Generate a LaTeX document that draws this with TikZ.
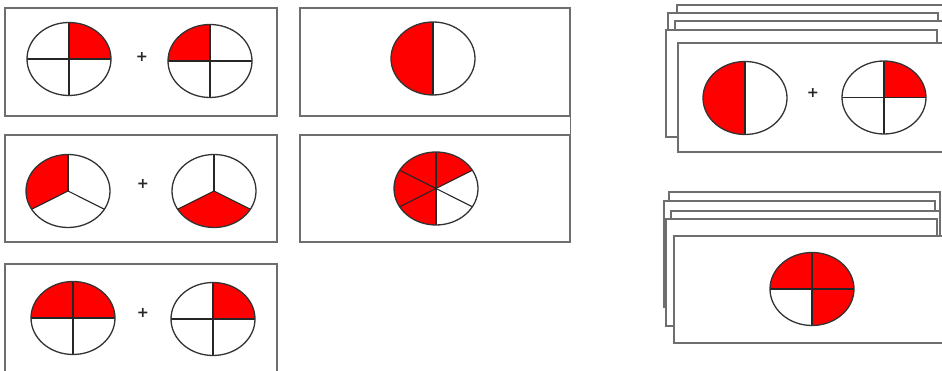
\documentclass[tikz,border=0pt]{standalone}
\usepackage{tikz}
\usepackage{fontspec}
\newfontfamily\plusfont{DejaVu Sans}
\definecolor{piered}{HTML}{FF0000}
\definecolor{boxgray}{HTML}{6E6E6E}
\tikzset{
  cardbox/.style={draw=boxgray,line width=1.1pt,fill=white,inner sep=0pt},
  stackcard/.style={draw=boxgray,line width=1.1pt,fill=white},
  pieline/.style={draw=black!80,line width=1.3pt},
  spoke/.style={draw=black!85,line width=1.1pt},
  plussign/.style={font=\plusfont\bfseries\Large,inner sep=0pt,text=black!85}
}
% center, red slices (start/end), spoke angles
\newcommand{\fracpie}[3]{%
  \begin{scope}[shift={#1}]
    \foreach \a/\b in {#2}
      \fill[piered] (0,0) -- (\a:42 and 36.5)
        arc[start angle=\a,end angle=\b,x radius=42,y radius=36.5] -- cycle;
    \foreach \s in {#3}
      \draw[spoke] (0,0) -- (\s:42 and 36.5);
    \draw[pieline] (0,0) ellipse[x radius=42,y radius=36.5];
  \end{scope}}

\begin{document}
\begin{tikzpicture}[x=1pt,y=1pt]
  \path[use as bounding box,clip] (0,0) rectangle (942,371);

  % left column: sums
  \node[cardbox,minimum width=272,minimum height=108] (sumone) at (141,309) {};
  \node[cardbox,minimum width=272,minimum height=107] (sumtwo) at (141,182.5) {};
  \node[cardbox,minimum width=272,minimum height=110] (sumthree) at (141,52) {};

  \fracpie{(69,312)}{0/90}{0,90,180,270}
  \fracpie{(210,310)}{90/180}{0,90,180,270}
  \node[plussign] (plusone) at (142,314) {+};

  \fracpie{(68,180)}{90/210}{90,210,330}
  \fracpie{(214,180)}{210/330}{90,210,330}
  \node[plussign] (plustwo) at (143,187) {+};

  \fracpie{(73,53)}{0/180}{0,90,180,270}
  \fracpie{(213,52)}{0/90}{0,90,180,270}
  \node[plussign] (plusthree) at (143,58) {+};

  % middle column: results
  \node[cardbox,minimum width=270,minimum height=108] (halfres) at (435,309) {};
  \node[cardbox,minimum width=270,minimum height=107] (sixthres) at (435,182.5) {};
  \draw[draw=boxgray,line width=1.1pt] (halfres.south east) -- (sixthres.north east);

  \fracpie{(433,312.5)}{90/270}{90,270}
  \fracpie{(436,182.5)}{30/270}{30,90,150,210,270,330}

  % right: stacked cards
  \foreach \l/\b/\r/\t in {677/251/960/366,668/246/938/358,675/241/960/350,
                           666/234/937/341,678/219/960/328}
    \draw[stackcard] (\l,\b) rectangle (\r,\t);
  \fracpie{(745,273)}{90/270}{90,270}
  \fracpie{(884,273.5)}{0/90}{0,90,180,270}
  \node[plussign] (plusfour) at (813,278) {+};

  \foreach \l/\b/\r/\t in {669/71/940/179,664/64/935/170,671/56/940/160,
                           666/45/937/152,674/28/960/135}
    \draw[stackcard] (\l,\b) rectangle (\r,\t);
  \fracpie{(812,82)}{-90/180}{0,90,180,270}
\end{tikzpicture}
\end{document}
